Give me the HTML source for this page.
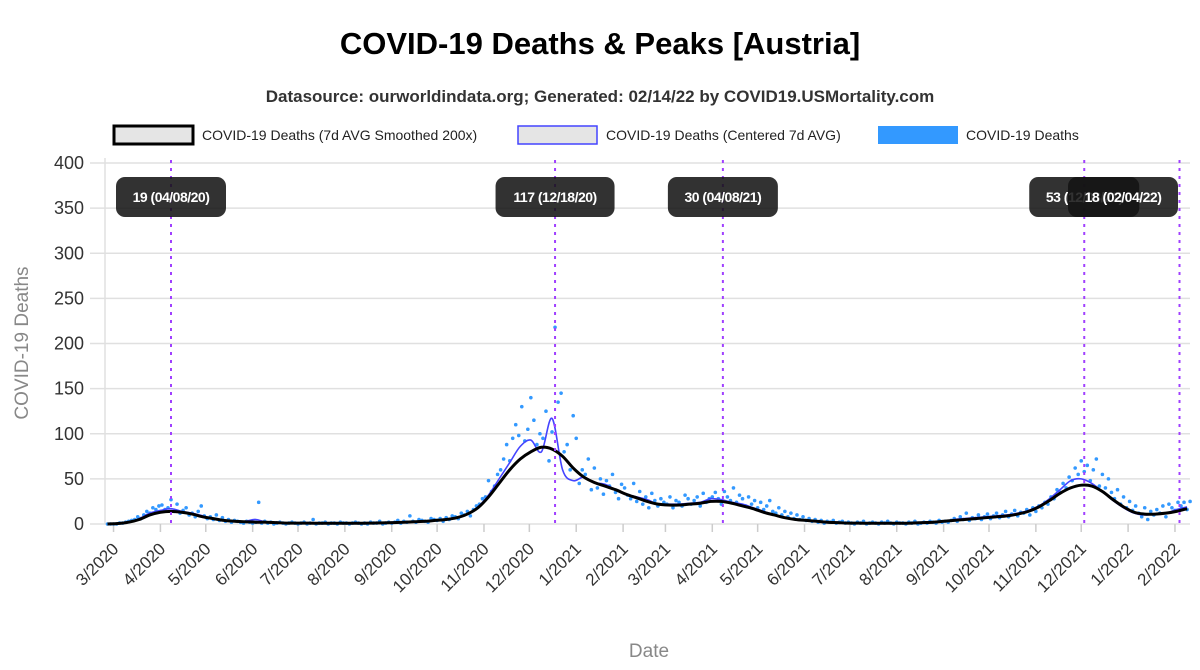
<!DOCTYPE html>
<html><head><meta charset="utf-8"><style>
body{margin:0;background:#fff;font-family:"Liberation Sans",Arial,sans-serif}
svg{display:block}
</style></head><body>
<svg id="chart" width="1200" height="670" xmlns="http://www.w3.org/2000/svg" font-family="Liberation Sans, Arial, sans-serif">
<text x="600" y="54" text-anchor="middle" font-size="31" font-weight="bold" fill="#000">COVID-19 Deaths &amp; Peaks [Austria]</text>
<text x="600" y="102" text-anchor="middle" font-size="17" font-weight="bold" fill="#333">Datasource: ourworldindata.org; Generated: 02/14/22 by COVID19.USMortality.com</text>
<g>
<rect x="114" y="126" width="79" height="18" fill="#e5e5e5" stroke="#000" stroke-width="3"/>
<text x="202" y="140" font-size="14" fill="#222">COVID-19 Deaths (7d AVG Smoothed 200x)</text>
<rect x="518" y="126" width="79" height="18" fill="#e5e5e5" stroke="#4444ff" stroke-width="1.5"/>
<text x="606" y="140" font-size="14" fill="#222">COVID-19 Deaths (Centered 7d AVG)</text>
<rect x="878" y="126" width="80" height="18" fill="#3399ff"/>
<text x="966" y="140" font-size="14" fill="#222">COVID-19 Deaths</text>
</g>
<text transform="translate(28,343) rotate(-90)" text-anchor="middle" font-size="19" fill="#888">COVID-19 Deaths</text>
<text x="649" y="657" text-anchor="middle" font-size="19" fill="#888">Date</text>
<g id="grid"></g><g id="marks"></g><g id="labels"></g>
</svg>
<script>
const yTicks=[0,50,100,150,200,250,300,350,400];
const xTickLabels=["3/2020","4/2020","5/2020","6/2020","7/2020","8/2020","9/2020","10/2020","11/2020","12/2020","1/2021","2/2021","3/2021","4/2021","5/2021","6/2021","7/2021","8/2021","9/2021","10/2021","11/2021","12/2021","1/2022","2/2022"];
const smoothedWeekly=[0,0.5,2,5,10,13,14,13,11,8,6,4,3,2.5,2,2,1.5,1,1,1,0.8,0.8,0.8,0.8,0.8,1,1.2,1.5,2,2.5,3,4,5,7,11,18,30,45,60,72,80,85,83,75,62,52,46,42,38,33,29,25,22,21,21,22,23,25,25,23,20,17,13,10,7,5,4,3,2,1.5,1,1,0.8,0.8,0.8,0.8,1,1.5,2,3,4,5,6,7,8,9,11,14,19,26,34,40,43,42,36,27,19,13,11,11,12,14,17,18];
const avg7Weekly=[0,1,2,6,12,15,17,14,12,9,6,4,3,3,5,2,2,1,1,1,1,1,1,1,1,1,1,2,2,3,3,4,5,7,11,19,32,50,68,86,93,80,117,60,48,52,46,44,38,33,30,27,22,22,22,23,24,28,27,24,22,18,14,10,7,5,4,3,2,2,1,1,1,1,1,1,1,2,2,3,5,6,7,8,9,10,12,15,20,28,38,48,50,45,36,26,18,12,10,11,12,16,19,20];
const deathsEvery2Days=[0,0,0,0,1,1,2,3,4,5,8,6,10,14,12,18,16,20,
21,16,18,27,14,22,12,15,18,10,12,8,14,20,9,
6,8,5,10,4,7,3,5,2,4,3,2,1,3,2,
1,2,24,1,3,1,2,0,1,2,1,0,1,2,1,
0,1,2,0,1,5,0,1,1,2,0,1,1,0,2,1,
1,0,1,2,1,0,1,0,2,1,1,3,0,1,2,
1,2,4,1,3,2,9,3,2,5,4,3,2,6,5,
4,6,3,7,5,9,8,6,12,10,14,9,16,20,22,28,
30,48,36,42,55,60,72,88,70,95,110,98,130,92,105,
140,115,88,100,95,125,70,102,218,135,145,80,88,60,120,95,
45,60,55,72,38,62,40,50,33,48,42,55,35,28,44,
40,32,28,45,25,36,22,30,18,34,26,20,28,24,
22,30,18,26,24,20,32,28,22,26,30,20,34,24,28,30,
35,28,22,36,30,26,40,24,32,28,20,30,22,26,18,
24,16,20,26,14,12,18,10,14,8,12,6,10,5,8,4,
6,3,5,2,4,1,3,2,4,1,2,3,1,2,1,
0,2,1,3,0,1,2,1,0,2,1,3,1,0,2,1,
1,0,2,1,3,0,1,2,1,3,2,1,4,2,3,
2,4,6,3,8,5,12,4,7,6,10,5,8,11,6,
9,12,7,10,14,8,11,15,9,13,12,16,10,18,14,20,
18,24,22,30,28,38,35,45,40,52,48,62,55,70,58,
65,48,60,72,42,55,40,50,35,28,38,22,30,18,25,15,
20,12,8,18,5,14,10,16,12,20,8,22,18,15,24,
20,24,16,25,22,24,26];
const peakDays=[0,254,365,604,667];
const peakLabels=["19 (04/08/20)","117 (12/18/20)","30 (04/08/21)","53 (12/03/21)","18 (02/04/22)"];

const NS="http://www.w3.org/2000/svg";
const X0=171, PXD=1.512, Y0=524, PXV=(524-163)/400;
const X=d=>X0+d*PXD, Y=v=>Y0-v*PXV;
const START=-42;
const monthDays=[-38,-7,23,54,84,115,146,176,207,237,268,299,327,358,388,419,449,480,511,541,572,602,633,664];
function mk(tag,attrs,parent){const e=document.createElementNS(NS,tag);for(const k in attrs)e.setAttribute(k,attrs[k]);parent.appendChild(e);return e;}
const grid=document.getElementById('grid'),marks=document.getElementById('marks'),labels=document.getElementById('labels');
yTicks.forEach(v=>{
  const l=mk('line',{x1:90,x2:1190,y1:Y(v),y2:Y(v),stroke:'#e0e0e0','stroke-width':1.5},grid);
  
  
  const t=mk('text',{x:84,y:Y(v)+6,'text-anchor':'end','font-size':18,fill:'#333'},grid);
  t.textContent=v;
  
  
});
const ax=mk('line',{x1:105,x2:105,y1:158,y2:524,stroke:'#e0e0e0','stroke-width':1.5},grid);


xTickLabels.forEach((lab,i)=>{
  const x=X(monthDays[i]);
  const tk=mk('line',{x1:x,x2:x,y1:524,y2:532,stroke:'#ccc','stroke-width':1.5},grid);
  
  
  const t=mk('text',{transform:`translate(${x+6},${550}) rotate(-45)`,'text-anchor':'end','font-size':17,fill:'#333'},grid);
  t.textContent=lab;
  
  
});
deathsEvery2Days.forEach((v,k)=>{
  const d=START+2*k; if(X(d)>1192) return;
  const c=mk('circle',{cx:X(d),cy:Y(v),r:1.8,fill:'#3399ff'},marks);
  
  
});
function smoothPath(arr){
  const pts=arr.map((v,i)=>[X(START+7*i),Y(v)]).filter(p=>p[0]<=1192);
  let s=`M${pts[0][0]},${pts[0][1]}`;
  for(let i=0;i<pts.length-1;i++){
    const p0=pts[Math.max(0,i-1)],p1=pts[i],p2=pts[i+1],p3=pts[Math.min(pts.length-1,i+2)];
    s+=` C${p1[0]+(p2[0]-p0[0])/6},${p1[1]+(p2[1]-p0[1])/6} ${p2[0]-(p3[0]-p1[0])/6},${p2[1]-(p3[1]-p1[1])/6} ${p2[0]},${p2[1]}`;
  }
  return s;
}
const avgLine=mk('path',{d:smoothPath(avg7Weekly),fill:'none',stroke:'#4444ff','stroke-width':1.6},marks);


const smLine=mk('path',{d:smoothPath(smoothedWeekly),fill:'none',stroke:'#000','stroke-width':3},marks);


peakDays.forEach((d,i)=>{
  const x=X(d);
  const l=mk('line',{x1:x,x2:x,y1:160,y2:524,stroke:'#a040ff','stroke-width':2,'stroke-dasharray':'3,5'},labels);
  
  
});
peakDays.forEach((d,i)=>{
  const x=X(d),w=i==1?119:110;
  let bx=x-w/2; if(bx+w>1178) bx=1178-w;
  const r=mk('rect',{x:bx,y:177,width:w,height:40,rx:9,fill:'rgba(20,20,20,0.87)'},labels);
  
  
  const t=mk('text',{x:bx+w/2,y:202,'text-anchor':'middle','font-size':14,'font-weight':'bold',fill:'#fff','letter-spacing':'-0.5'},labels);
  t.textContent=peakLabels[i];
  
  
});
</script>
</body></html>
